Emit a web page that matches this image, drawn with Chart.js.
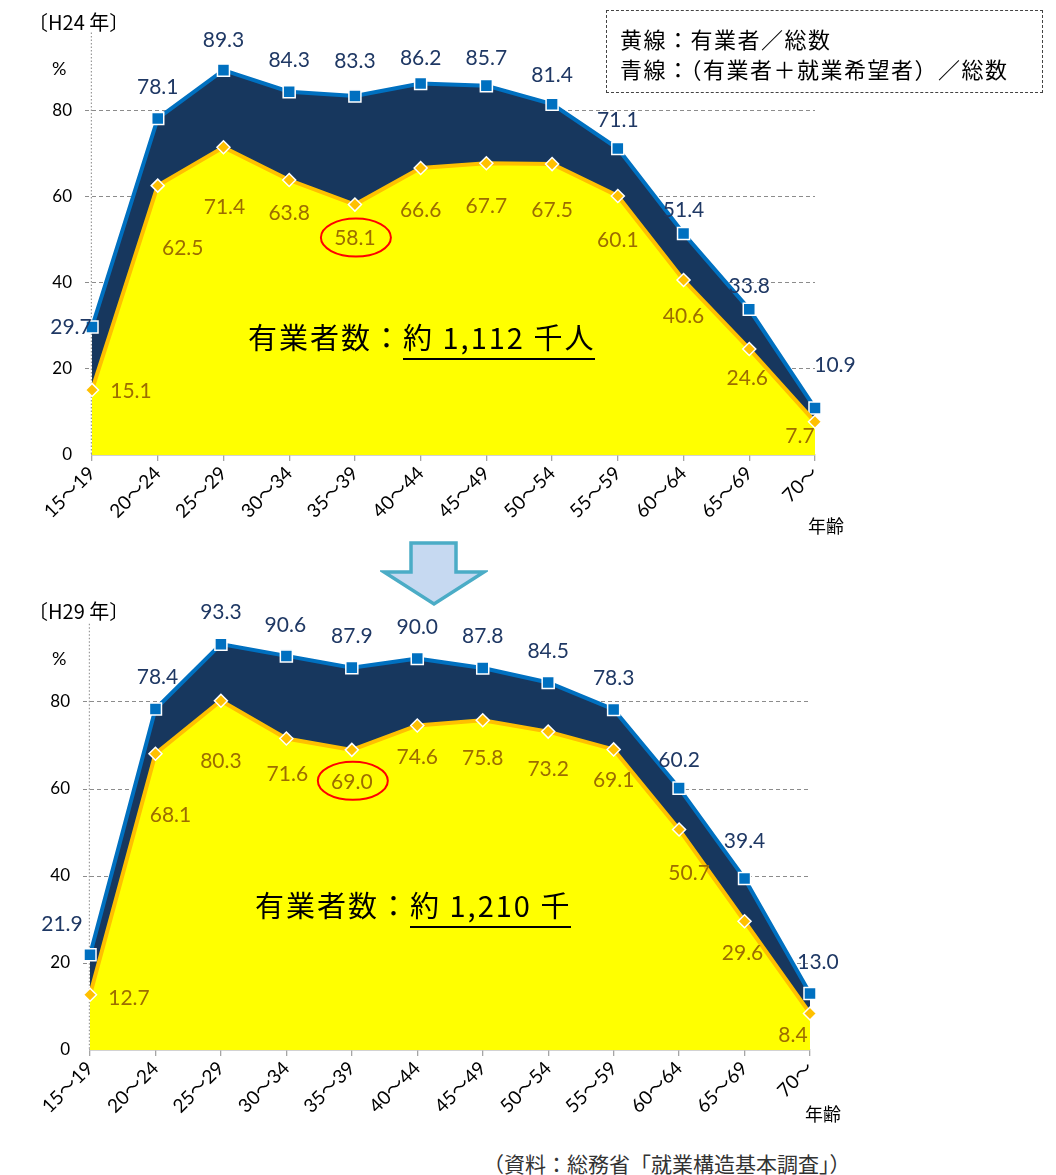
<!DOCTYPE html>
<html lang="ja">
<head>
<meta charset="utf-8">
<script src="https://cdn.jsdelivr.net/npm/chart.js@4/dist/chart.umd.min.js"></script>
<style>
  html, body { margin: 0; padding: 0; background: #fff; }
  body { width: 1056px; height: 1175px; position: relative; overflow: hidden;
         font-family: "Noto Sans CJK JP", sans-serif; color: #000; }
  .abs { position: absolute; white-space: nowrap; }
  canvas.chart { position: absolute; left: 0; }
  .year { font-size: 20px; line-height: 24px; }
  .pct { font-size: 18px; line-height: 22px; font-family: Lato, "Noto Sans CJK JP", sans-serif; }
  .age { font-size: 18px; line-height: 22px; }
  .total { font-size: 29px; line-height: 36px; letter-spacing: 2px; }
  .total u { text-decoration: none; border-bottom: 2.5px solid #000; padding-bottom: 1px; }
  .legend { left: 606px; top: 10px; width: 437px; height: 83px; border: 1.3px dashed #444;
            box-sizing: border-box; font-size: 22px; line-height: 30px; padding: 12px 0 0 13px;
            letter-spacing: 1.5px; }
  .source { font-size: 21px; line-height: 26px; color: #333; }
</style>
</head>
<body>
<canvas id="chartH24" class="chart" width="1056" height="545" style="top:0px"></canvas>
<canvas id="chartH29" class="chart" width="1056" height="545" style="top:590px"></canvas>

<div class="abs year" style="left:28px; top:10px;">〔H24 年〕</div>
<div class="abs pct" style="left:52px; top:57px;">%</div>
<div class="abs age" style="left:808px; top:514px;">年齢</div>
<div class="abs total" style="left:248px; top:318px;">有業者数：<u>約 1,112 千人</u></div>

<div class="abs legend">黄線：有業者／総数<br>青線：（有業者＋就業希望者）／総数</div>

<svg class="abs" style="left:380px; top:540px;" width="108" height="68" viewBox="0 0 108 68">
  <polygon points="31,3 76,3 76,32 104,32 54,64 4,32 31,32"
           fill="#c6d9f1" stroke="#4bacc6" stroke-width="3.5" stroke-linejoin="miter"/>
</svg>

<div class="abs year" style="left:28px; top:599px;">〔H29 年〕</div>
<div class="abs pct" style="left:52px; top:647px;">%</div>
<div class="abs age" style="left:805px; top:1102px;">年齢</div>
<div class="abs total" style="left:255px; top:886px;">有業者数：<u>約 1,210 千</u></div>

<div class="abs source" style="left:483px; top:1150px;">（資料：総務省「就業構造基本調査」）</div>

<script>
// Age groups on the x axis
const ageGroups = ['15〜19', '20〜24', '25〜29', '30〜34', '35〜39', '40〜44',
                   '45〜49', '50〜54', '55〜59', '60〜64', '65〜69', '70〜'];

// 2012 (H24): employed / population, and (employed + job seekers) / population, %
const employedH24 = [15.1, 62.5, 71.4, 63.8, 58.1, 66.6, 67.7, 67.5, 60.1, 40.6, 24.6, 7.7];
const willingH24  = [29.7, 78.1, 89.3, 84.3, 83.3, 86.2, 85.7, 81.4, 71.1, 51.4, 33.8, 10.9];

// 2017 (H29)
const employedH29 = [12.7, 68.1, 80.3, 71.6, 69.0, 74.6, 75.8, 73.2, 69.1, 50.7, 29.6, 8.4];
const willingH29  = [21.9, 78.4, 93.3, 90.6, 87.9, 90.0, 87.8, 84.5, 78.3, 60.2, 39.4, 13.0];

// Value axis range and step
const yMin = 0;
const yMax = 100;
const yStep = 20;

// Value-label nudges (dx, dy in px from each point)
const nudgeWillingH24  = [[-21,0],[0,-31],[0,-30],[0,-31],[0,-35],[0,-25],[0,-27],[0,-29],[0,-28],[0,-23],[0,-23],[20,-43]];
const nudgeEmployedH24 = [[39,1],[25,63],[1,60],[0,33],[0,34],[0,42],[0,43],[0,46],[0,44],[0,36],[-2,29],[-15,14]];
const nudgeWillingH29  = [[-28,-31],[2,-32],[0,-32],[-1,-31],[0,-31],[0,-31],[0,-32],[0,-31],[0,-31],[0,-28],[0,-37],[8,-31]];
const nudgeEmployedH29 = [[39,3],[15,61],[0,61],[1,36],[0,32],[0,32],[0,38],[0,38],[0,31],[10,44],[-2,32],[-17,22]];

const NAVY_TEXT = '#1f3864';
const GOLD_TEXT = '#9c6d00';

function valueLabels(nudges, circled) {
  return {
    id: 'valueLabels',
    beforeDatasetsDraw(chart) {
      // dotted value axis line
      const { ctx, chartArea, scales } = chart;
      ctx.save();
      ctx.strokeStyle = '#9a9a9a';
      ctx.lineWidth = 1.2;
      ctx.setLineDash([1.5, 2]);
      const x = chartArea.left - 0.6;
      ctx.beginPath();
      ctx.moveTo(x, scales.y.getPixelForValue(98));
      ctx.lineTo(x, scales.y.getPixelForValue(0));
      ctx.stroke();
      ctx.restore();
    },
    afterDatasetsDraw(chart) {
      const { ctx } = chart;
      ctx.save();
      ctx.font = '21px Lato, "Noto Sans CJK JP", sans-serif';
      ctx.textAlign = 'center';
      ctx.textBaseline = 'middle';
      chart.data.datasets.forEach((ds, di) => {
        const meta = chart.getDatasetMeta(di);
        const nd = nudges[di];
        meta.data.forEach((pt, i) => {
          const x = pt.x + nd[i][0];
          const y = pt.y + nd[i][1];
          ctx.fillStyle = ds.labelColor;
          ctx.fillText(ds.data[i].toFixed(1), x, y);
          if (di === circled.dataset && i === circled.index) {
            ctx.strokeStyle = '#ff0000';
            ctx.lineWidth = 2;
            ctx.beginPath();
            ctx.ellipse(x + 1, y - 1, 35, 19, 0, 0, Math.PI * 2);
            ctx.stroke();
          }
        });
      });
      ctx.restore();
    }
  };
}

function buildChart(id, employed, willing, nudges, box) {
  const gridDash = [4, 3];
  return new Chart(document.getElementById(id), {
    type: 'line',
    data: {
      labels: ageGroups,
      datasets: [
        {
          data: employed,
          labelColor: GOLD_TEXT,
          borderColor: '#ffc000',
          borderWidth: 4,
          backgroundColor: '#ffff00',
          fill: 'origin',
          tension: 0,
          pointStyle: 'rectRot',
          pointRadius: 6.5,
          pointBackgroundColor: '#ffc000',
          pointBorderColor: '#ffffff',
          pointBorderWidth: 1.5,
          clip: false
        },
        {
          data: willing,
          labelColor: NAVY_TEXT,
          borderColor: '#0070c0',
          borderWidth: 4,
          backgroundColor: '#17375e',
          fill: '-1',
          tension: 0,
          pointStyle: 'rect',
          pointRadius: 8.5,
          pointBackgroundColor: '#0070c0',
          pointBorderColor: '#ffffff',
          pointBorderWidth: 1.5,
          clip: false
        }
      ]
    },
    options: {
      responsive: false,
      animation: false,
      devicePixelRatio: 1,
      layout: { padding: { top: box.top, right: 1056 - box.right, left: 0, bottom: 0 } },
      plugins: { legend: { display: false }, tooltip: { enabled: false } },
      scales: {
        x: {
          afterFit(scale) { scale.height = box.xh; },
          grid: { drawOnChartArea: false, drawTicks: true, tickLength: 6, color: '#a6a6a6', lineWidth: 1.3 },
          border: { display: true, color: '#a6a6a6', width: 1.5 },
          ticks: {
            autoSkip: false, maxRotation: 45, minRotation: 45, padding: 1,
            color: '#000', font: { family: 'Lato, "Noto Sans CJK JP", sans-serif', size: 19 }
          }
        },
        y: {
          min: yMin, max: yMax,
          afterFit(scale) { scale.width = box.left; },
          grid: {
            color: c => (c.tick && c.tick.value > yMin && c.tick.value < yMax) ? '#8c8c8c' : 'rgba(0,0,0,0)',
            lineWidth: 1,
            tickLength: 7,
            borderDash: gridDash,
            tickBorderDash: gridDash
          },
          border: { display: false, dash: gridDash },
          ticks: {
            stepSize: yStep, padding: 13, color: '#000',
            font: { family: 'Lato, "Noto Sans CJK JP", sans-serif', size: 17 },
            callback: v => (v === yMax ? '' : v)
          }
        }
      }
    },
    plugins: [valueLabels(nudges, { dataset: 0, index: 4 })]
  });
}

buildChart('chartH24', employedH24, willingH24, [nudgeEmployedH24, nudgeWillingH24],
           { left: 92, right: 815, top: 24, xh: 90 });
buildChart('chartH29', employedH29, willingH29, [nudgeEmployedH29, nudgeWillingH29],
           { left: 90, right: 810, top: 25, xh: 85 });
</script>
</body>
</html>
